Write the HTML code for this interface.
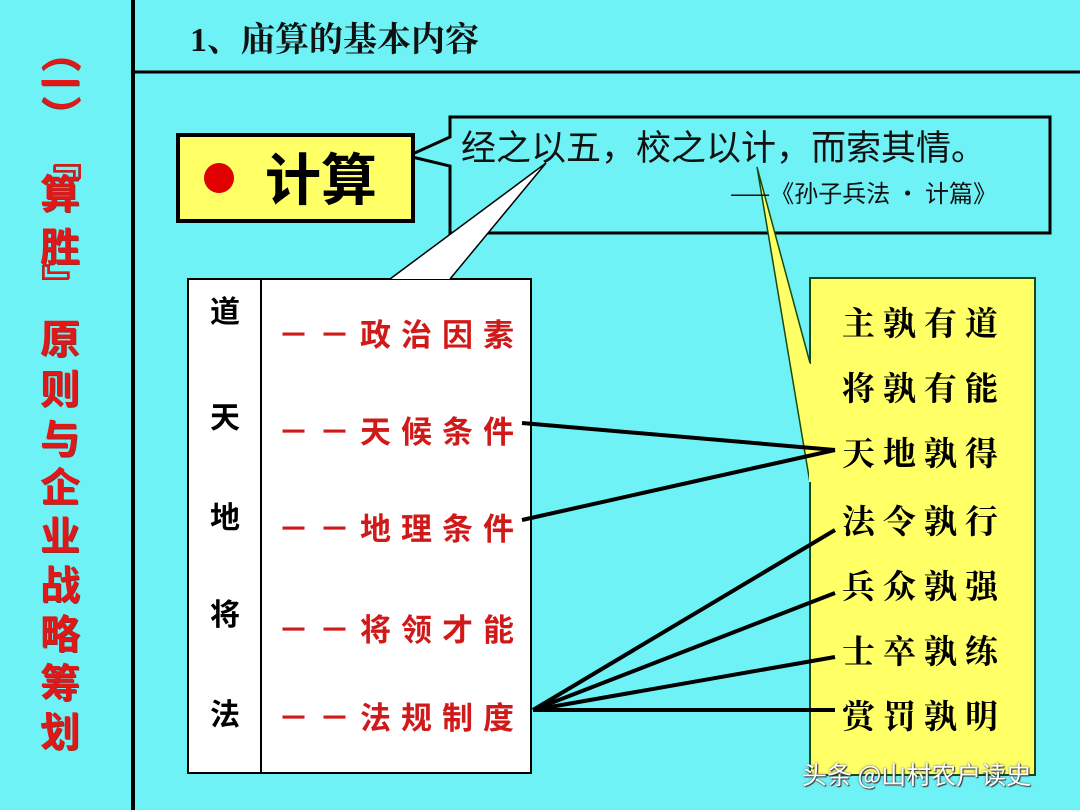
<!DOCTYPE html>
<html><head><meta charset="utf-8">
<style>
html,body{margin:0;padding:0}
body{width:1080px;height:810px;position:relative;overflow:hidden;background:#6ef2f6;font-family:"Liberation Serif","Noto Serif CJK SC",serif}
.t{position:absolute;white-space:nowrap}
.v{position:absolute;left:38px;width:44px;text-align:center;color:#e01818;font:bold 40px "Liberation Sans","Noto Sans CJK SC",sans-serif;line-height:44px;text-shadow:1px 1px 0 #903030}
.r{transform:rotate(90deg)}
.lc{position:absolute;left:190px;width:70px;text-align:center;font:bold 30px "Noto Sans CJK SC",sans-serif;line-height:36px;color:#000}
.rd{position:absolute;left:278px;color:#d01a1a;font:bold 31px "Noto Sans CJK SC",sans-serif;letter-spacing:10px;line-height:36px}
.yr{position:absolute;left:842px;font:bold 33px "Noto Serif CJK SC",serif;letter-spacing:8px;line-height:40px;color:#000}
</style></head><body>
<svg width="1080" height="810" style="position:absolute;left:0;top:0">
<line x1="133" y1="0" x2="133" y2="810" stroke="#000" stroke-width="4"/>
<line x1="133" y1="72" x2="1080" y2="72" stroke="#000" stroke-width="3"/>
<path d="M450,117 L1050,117 L1050,233 L450,233 L450,166 L408,156 L450,137 Z" fill="#6ef2f6" stroke="#000" stroke-width="3"/>
<rect x="178" y="135" width="235" height="86" fill="#ffff66" stroke="#000" stroke-width="4"/>
<circle cx="219" cy="178" r="15" fill="#e00000"/>
<rect x="188" y="279" width="343" height="494" fill="#fff" stroke="#000" stroke-width="2"/>
<line x1="261" y1="279" x2="261" y2="773" stroke="#000" stroke-width="2"/>
<path d="M390,279 L546,163 L450,279" fill="#fff" stroke="#000" stroke-width="1.5"/>
<rect x="810" y="278" width="225" height="497" fill="#ffff66" stroke="#1a4a10" stroke-width="2"/>
<path d="M810,363 L757,167 L810,483 Z" fill="#ffff66"/>
<path d="M810,363 L757,167 L810,483" fill="none" stroke="#1a4a10" stroke-width="1.5"/>
<rect x="809" y="364" width="4" height="118" fill="#ffff66"/>
<g stroke="#000" stroke-width="4" fill="none">
<line x1="522" y1="423" x2="835" y2="450"/>
<line x1="522" y1="520" x2="835" y2="450"/>
<line x1="533" y1="710" x2="835" y2="530"/>
<line x1="533" y1="710" x2="835" y2="593"/>
<line x1="533" y1="710" x2="835" y2="657"/>
<line x1="533" y1="710" x2="835" y2="710"/>
</g>
</svg>

<div class="t" style="left:190px;top:12px;font-size:34px;font-weight:bold;color:#111">1、庙算的基本内容</div>
<div class="t" style="left:265px;top:142px;font-size:56px;font-family:'Noto Sans CJK SC',sans-serif;font-weight:bold;line-height:70px">计算</div>
<div class="t" style="left:461px;top:124px;font-size:35px;line-height:44px;color:#111;font-family:'Noto Sans CJK SC',sans-serif">经之以五，校之以计，而索其情。</div>
<div class="t" style="left:730px;top:176px;font-size:24px;line-height:32px;color:#111;font-family:'Noto Sans CJK SC',sans-serif">——《孙子兵法 · 计篇》</div>

<div class="v r" style="top:30px">（</div>
<div class="v" style="top:63px">一</div>
<div class="v r" style="top:93px">）</div>
<div class="v r" style="top:138px">『</div>
<div class="v" style="top:173px">算</div>
<div class="v" style="top:226px">胜</div>
<div class="v r" style="top:261px">』</div>
<div class="v" style="top:318px">原</div>
<div class="v" style="top:368px">则</div>
<div class="v" style="top:418px">与</div>
<div class="v" style="top:466px">企</div>
<div class="v" style="top:515px">业</div>
<div class="v" style="top:564px">战</div>
<div class="v" style="top:613px">略</div>
<div class="v" style="top:662px">筹</div>
<div class="v" style="top:711px">划</div>

<div class="lc" style="top:291px">道</div>
<div class="lc" style="top:397px">天</div>
<div class="lc" style="top:497px">地</div>
<div class="lc" style="top:594px">将</div>
<div class="lc" style="top:694px">法</div>

<div class="rd" style="top:315px">－－政治因素</div>
<div class="rd" style="top:412px">－－天候条件</div>
<div class="rd" style="top:509px">－－地理条件</div>
<div class="rd" style="top:610px">－－将领才能</div>
<div class="rd" style="top:698px">－－法规制度</div>

<div class="yr" style="top:302px">主孰有道</div>
<div class="yr" style="top:367px">将孰有能</div>
<div class="yr" style="top:432px">天地孰得</div>
<div class="yr" style="top:500px">法令孰行</div>
<div class="yr" style="top:565px">兵众孰强</div>
<div class="yr" style="top:630px">士卒孰练</div>
<div class="yr" style="top:695px">赏罚孰明</div>

<div class="t" style="left:802px;top:756px;font-size:25px;color:#fff;font-family:'Noto Sans CJK SC',sans-serif;text-shadow:1px 1px 1px #333,0 0 2px #555">头条 @山村农户读史</div>
</body></html>
